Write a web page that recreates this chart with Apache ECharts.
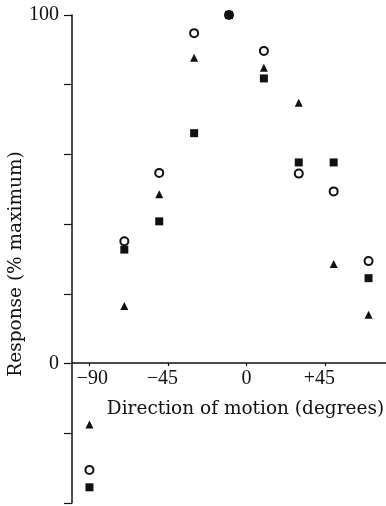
<!DOCTYPE html>
<html><head><meta charset="utf-8">
<script src="https://cdn.jsdelivr.net/npm/echarts@6/dist/echarts.min.js"></script>
<style>html,body{margin:0;padding:0;background:#fff}#c{width:386px;height:506px}</style>
</head><body><div id="c"></div>
<script>
const directions = [-90, -70, -50, -30, -10, 10, 30, 50, 70];
const openCircle = [-30.5, 35.1, 54.7, 94.8, 100, 89.7, 54.5, 49.4, 29.4];
const triangle   = [-17.5, 16.5, 48.6, 87.7, 100, 84.9, 74.8, 28.6, 14.0];
const square     = [-35.5, 32.7, 40.8, 66.1, 100, 81.8, 57.7, 57.7, 24.5];
const xTickValues = [-90, -45, 0, 45];
const xTickLabels = ['\u221290', '\u221245', '0', '+45'];
const yLabelValues = [0, 100];
const yLabels = ['0', '100'];
const xTitle = 'Direction of motion (degrees)';
const yTitle = 'Response (% maximum)';

const pairs = arr => directions.map((d, i) => [d, arr[i]]);
const serif = 'Liberation Serif';
const chart = echarts.init(document.getElementById('c'), null, {renderer: 'canvas'});
chart.setOption({
  animation: false,
  backgroundColor: '#fff',
  grid: {left: 72, right: 0, top: 15, bottom: 3, containLabel: false, outerBoundsMode: 'none'},
  xAxis: {
    type: 'value', min: -100, max: 80, position: 'bottom', offset: -140,
    name: xTitle, nameLocation: 'middle', nameGap: 37, nameMoveOverlap: false,
    nameTextStyle: {fontFamily: 'DejaVu Serif', fontSize: 18.5, color: '#111', padding: [0, 0, 0, 33]},
    axisLine: {onZero: false, lineStyle: {color: '#111', width: 1.5}},
    axisTick: {show: true, customValues: xTickValues, length: 3, lineStyle: {color: '#111', width: 1.2}},
    axisLabel: {
      customValues: xTickValues, margin: 6, color: '#111', fontFamily: serif, fontSize: 20,
      formatter: v => {
        const i = xTickValues.indexOf(v);
        const t = i >= 0 ? xTickLabels[i] : '';
        if (v === 0) return '{p|' + t + '}';
        if (v === -90) return '{f|' + t + '}';
        return '{s|' + t + '}';
      },
      rich: {
        p: {fontFamily: serif, fontSize: 20, color: '#111'},
        s: {fontFamily: serif, fontSize: 20, color: '#111', padding: [0, 11, 0, 0]},
        f: {fontFamily: serif, fontSize: 20, color: '#111', padding: [0, 0, 0, 6]}
      }
    },
    splitLine: {show: false}
  },
  yAxis: {
    type: 'value', min: -40, max: 100, interval: 20,
    name: yTitle, nameLocation: 'middle', nameGap: 46, nameRotate: 90, nameMoveOverlap: false,
    nameTextStyle: {fontFamily: 'DejaVu Serif', fontSize: 18.5, color: '#111', padding: [0, 10, 0, 0]},
    axisLine: {show: true, onZero: false, lineStyle: {color: '#111', width: 1.5}},
    axisTick: {show: true, length: 8, lineStyle: {color: '#111', width: 1.2}},
    axisLabel: {
      customValues: yLabelValues, margin: 13, color: '#111', fontFamily: serif, fontSize: 20,
      formatter: v => { const i = yLabelValues.indexOf(v); return i >= 0 ? yLabels[i] : ''; }
    },
    splitLine: {show: false}
  },
  series: [
    {type: 'scatter', name: 'open circle', data: pairs(openCircle), symbol: 'circle', symbolSize: 8,
     itemStyle: {color: '#fff', borderColor: '#111', borderWidth: 2, opacity: 1}, z: 2},
    {type: 'scatter', name: 'triangle', data: pairs(triangle), symbol: 'triangle', symbolSize: [8, 8],
     itemStyle: {color: '#111', opacity: 1}, z: 3},
    {type: 'scatter', name: 'square', data: pairs(square), symbol: 'rect', symbolSize: 8,
     itemStyle: {color: '#111', opacity: 1}, z: 4}
  ]
});
</script></body></html>
